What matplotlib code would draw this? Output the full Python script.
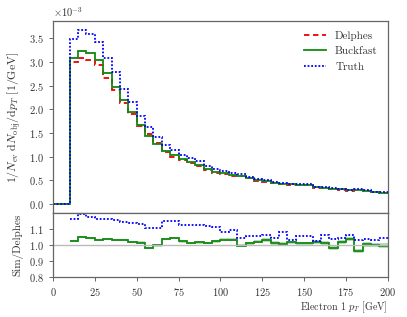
import numpy as np
import matplotlib
matplotlib.use("Agg")
import matplotlib.pyplot as plt

plt.rcParams['font.family'] = ['cmr10', 'DejaVu Serif']
plt.rcParams['mathtext.fontset'] = 'cm'
plt.rcParams['axes.formatter.use_mathtext'] = True
plt.rcParams['axes.unicode_minus'] = False

# bin edges (GeV) and per-bin values in units of 1e-3 /GeV
bin_edges = list(range(0, 205, 5))
scale = 1e-3
delphes = [0.0, 0.0,
           3.00, 3.080, 3.050, 2.946, 2.663, 2.403, 2.132, 1.900, 1.650, 1.470,
           1.281, 1.091, 0.996, 0.929, 0.869, 0.806, 0.721, 0.660, 0.638, 0.591,
           0.602, 0.549, 0.496, 0.470, 0.444, 0.417, 0.408, 0.406, 0.396, 0.343,
           0.341, 0.326, 0.304, 0.284, 0.306, 0.279, 0.245, 0.241]
buckfast = [0.0, 0.0,
            3.08, 3.24, 3.19, 3.04, 2.77, 2.48, 2.20, 1.94, 1.675, 1.445,
            1.278, 1.13, 1.04, 0.95, 0.88, 0.82, 0.73, 0.675, 0.66, 0.61,
            0.60, 0.555, 0.506, 0.485, 0.45, 0.42, 0.415, 0.41, 0.40, 0.35,
            0.345, 0.32, 0.31, 0.295, 0.295, 0.28, 0.245, 0.24]
truth = [0.0, 0.0,
         3.495, 3.684, 3.584, 3.432, 3.089, 2.780, 2.441, 2.166, 1.869, 1.626,
         1.417, 1.252, 1.148, 1.043, 0.977, 0.907, 0.809, 0.734, 0.689, 0.646,
         0.628, 0.580, 0.525, 0.500, 0.463, 0.451, 0.421, 0.428, 0.418, 0.352,
         0.363, 0.338, 0.317, 0.302, 0.316, 0.289, 0.253, 0.252]
buckfast_relerr = [0.0, 0.0,
                   0.006, 0.006, 0.006, 0.006, 0.006, 0.006, 0.006, 0.006, 0.007, 0.007,
                   0.007, 0.007, 0.008, 0.008, 0.008, 0.008, 0.009, 0.009, 0.009, 0.009,
                   0.010, 0.010, 0.010, 0.010, 0.011, 0.011, 0.011, 0.011, 0.012, 0.012,
                   0.012, 0.012, 0.013, 0.013, 0.013, 0.013, 0.014, 0.014]
series_labels = ["Delphes", "Buckfast", "Truth"]
colors = ["#ee0000", "#138a13", "#0000ff"]

edges = np.array(bin_edges, dtype=float)
d = np.array(delphes) * scale
b = np.array(buckfast) * scale
t = np.array(truth) * scale
err = np.array(buckfast_relerr)

fig = plt.figure(figsize=(4.07, 3.17), dpi=100)
ax = fig.add_axes([0.130, 0.328, 0.823, 0.606])
rax = fig.add_axes([0.130, 0.126, 0.823, 0.202], sharex=ax)

text_color = '#333333'
for a in (ax, rax):
    for s in a.spines.values():
        s.set_color('#666666')
        s.set_linewidth(0.9)
    a.tick_params(colors='#666666', labelcolor=text_color, labelsize=7.5, width=0.7, length=3)

# main panel
ax.fill_between(edges, np.append(b * (1 - err), b[-1] * (1 - err[-1])),
                np.append(b * (1 + err), b[-1] * (1 + err[-1])),
                step='post', color=colors[1], alpha=0.3, lw=0)
ax.stairs(d, edges, color=colors[0], ls=(0, (3, 2)), lw=1.3, label=series_labels[0], baseline=None)
ax.stairs(b, edges, color=colors[1], ls='-', lw=1.3, label=series_labels[1], baseline=None)
ax.stairs(t, edges, color=colors[2], ls=(0, (1, 1)), lw=1.3, label=series_labels[2], baseline=None)
ax.set_xlim(0, 200)
ax.set_ylim(-0.19e-3, 3.87e-3)
ax.set_yticks(np.arange(0, 3.51e-3, 0.5e-3))
ax.ticklabel_format(axis='y', style='sci', scilimits=(-3, -3))
ax.yaxis.get_offset_text().set_fontsize(7.5)
ax.yaxis.get_offset_text().set_color(text_color)
ax.tick_params(labelbottom=False)
ax.set_ylabel(r'$1/N_{\rm ev}\;{\rm d}N_{\rm obj}/{\rm d}p_T$ [1/GeV]', fontsize=8.5, color=text_color)
leg = ax.legend(loc='upper right', frameon=False, fontsize=8, handlelength=2.0)
for txt in leg.get_texts():
    txt.set_color(text_color)

# ratio panel
mask = slice(2, None)
redges = edges[2:]
rb = b[mask] / d[mask]
rt = t[mask] / d[mask]
rerr = err[mask]
rax.axhline(1.0, color='#bbbbbb', lw=1.0)
rax.fill_between(redges, np.append(rb - rerr, rb[-1] - rerr[-1]),
                 np.append(rb + rerr, rb[-1] + rerr[-1]),
                 step='post', color=colors[1], alpha=0.3, lw=0)
rax.stairs(rb, redges, color=colors[1], ls='-', lw=1.3, baseline=None)
rax.stairs(rt, redges, color=colors[2], ls=(0, (1, 1)), lw=1.3, baseline=None)
rax.set_ylim(0.8, 1.2)
rax.set_yticks([0.8, 0.9, 1.0, 1.1])
rax.set_xticks([0, 25, 50, 75, 100, 125, 150, 175, 200])
rax.set_ylabel('Sim/Delphes', fontsize=8, color=text_color)
rax.set_xlabel(r'Electron 1 $p_T$ [GeV]', fontsize=7.2, color=text_color, loc='right', labelpad=1)

fig.align_ylabels([ax, rax])
fig.savefig('out.png', dpi=100)
